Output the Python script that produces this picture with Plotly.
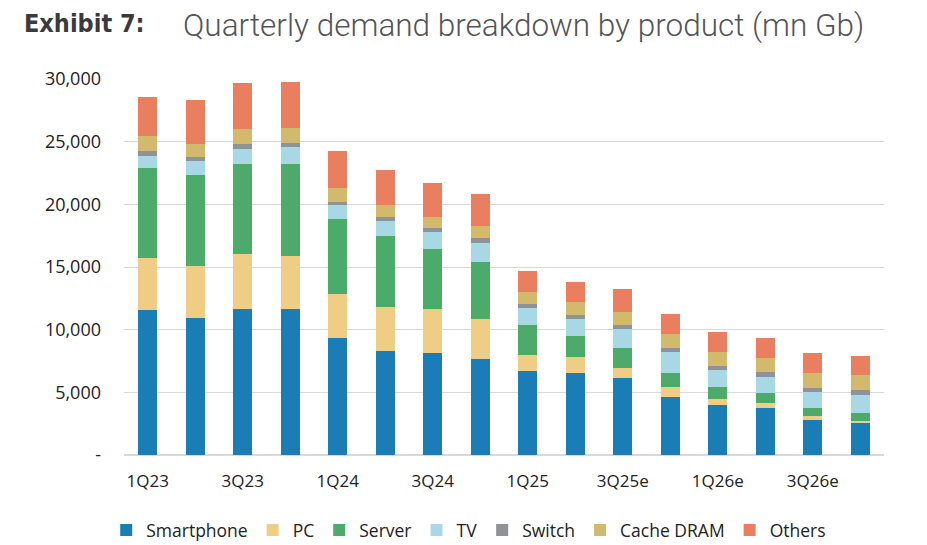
import plotly.graph_objects as go

quarters = ["1Q23", "2Q23", "3Q23", "4Q23", "1Q24", "2Q24", "3Q24", "4Q24",
            "1Q25", "2Q25", "3Q25e", "4Q25e", "1Q26e", "2Q26e", "3Q26e", "4Q26e"]

smartphone = [11570, 10910, 11630, 11630, 9340, 8320, 8140, 7660,
              6730, 6540, 6170, 4650, 3970, 3730, 2820, 2530]
pc = [4130, 4170, 4410, 4250, 3510, 3490, 3490, 3220,
      1230, 1310, 800, 780, 500, 400, 290, 210]
server = [7180, 7270, 7180, 7320, 5990, 5670, 4810, 4520,
          2410, 1620, 1570, 1090, 930, 840, 640, 640]
tv = [1000, 1140, 1200, 1410, 1110, 1220, 1330, 1520,
      1360, 1380, 1520, 1720, 1380, 1250, 1250, 1410]
switch = [360, 310, 400, 320, 270, 320, 320, 370,
          320, 350, 340, 320, 320, 400, 370, 400]
cache_dram = [1200, 1020, 1200, 1170, 1060, 930, 880, 990,
              940, 1010, 1010, 1100, 1120, 1120, 1170, 1170]
others = [3140, 3510, 3670, 3670, 2980, 2800, 2710, 2550,
          1720, 1600, 1810, 1590, 1600, 1600, 1580, 1560]

series = [
    ("Smartphone", smartphone, "#1b7db6"),
    ("PC", pc, "#efcd84"),
    ("Server", server, "#4caa6b"),
    ("TV", tv, "#a8d8e6"),
    ("Switch", switch, "#8e9398"),
    ("Cache DRAM", cache_dram, "#d3b96b"),
    ("Others", others, "#e97f5f"),
]

y_ticks = [0, 5000, 10000, 15000, 20000, 25000, 30000]
y_tick_text = ["-", "5,000", "10,000", "15,000", "20,000", "25,000", "30,000"]
x_ticks = quarters[::2]

fig = go.Figure()
for name, vals, color in series:
    fig.add_trace(go.Bar(x=quarters, y=vals, name=name, marker_color=color,
                         marker_line_width=0))

fig.update_layout(
    barmode="stack",
    bargap=0.6,
    width=927, height=545,
    margin=dict(l=116, r=51, t=71, b=98, autoexpand=False),
    paper_bgcolor="white", plot_bgcolor="white",
    font=dict(family="Open Sans", color="#222222"),
    showlegend=True,
    legend=dict(orientation="h", x=0.497, xanchor="center", xref="container",
                y=0.042, yanchor="middle", yref="container",
                font=dict(family="Open Sans", size=17.5, color="#222222"),
                traceorder="normal", itemwidth=30, tracegroupgap=0),
    xaxis=dict(tickmode="array", tickvals=x_ticks, ticks="", showgrid=False,
               tickfont=dict(size=17, family="Open Sans"), showline=False,
               range=[-0.5, 15.5], ticklabelstandoff=14),
    yaxis=dict(range=[0, 30000], tickvals=y_ticks, ticktext=y_tick_text,
               showgrid=True, gridcolor="#d9d9d9", gridwidth=1.2,
               zeroline=True, zerolinecolor="#d9d9d9", zerolinewidth=1.5,
               tickfont=dict(size=18, family="Open Sans"), ticks="",
               ticklabelstandoff=22),
)

fig.add_annotation(text="<b>Exhibit 7:</b>", xref="paper", yref="paper",
                   x=-0.1342, y=1.0, xanchor="left", yanchor="middle",
                   yshift=56, showarrow=False,
                   font=dict(family="DejaVu Sans Condensed, Roboto", size=25, color="#3a3a3a"))
fig.add_annotation(text="Quarterly demand breakdown by product (mn Gb)", xref="paper",
                   yref="paper", x=0.0765, y=1.0, xanchor="left", yanchor="middle",
                   yshift=54, showarrow=False, borderpad=0,
                   font=dict(family="Roboto", size=31.5, color="#555555", weight=300))

fig.write_html("out.html")
